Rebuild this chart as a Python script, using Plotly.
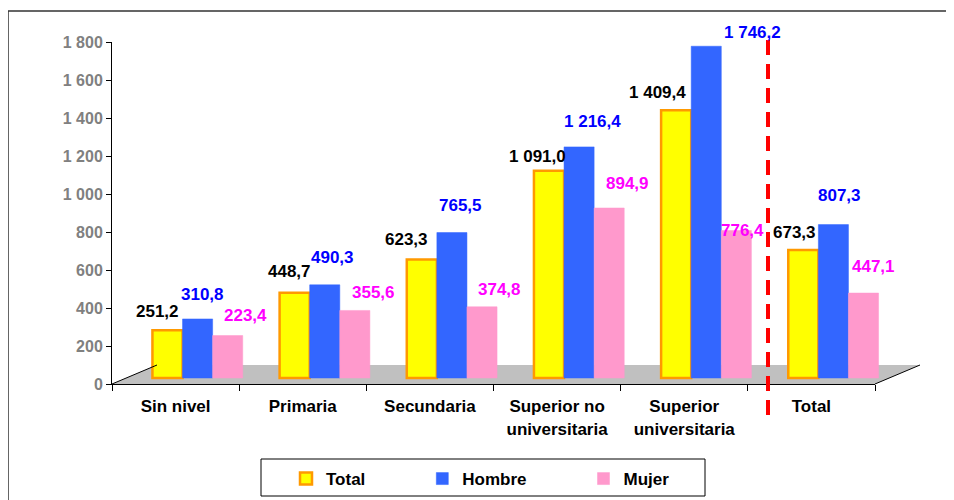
import plotly.graph_objects as go

categories = ["Sin nivel", "Primaria", "Secundaria", "Superior no<br>universitaria",
              "Superior<br>universitaria", "Total"]
total = [251.2, 448.7, 623.3, 1091.0, 1409.4, 673.3]
hombre = [310.8, 490.3, 765.5, 1216.4, 1746.2, 807.3]
mujer = [223.4, 355.6, 374.8, 894.9, 776.4, 447.1]
y_ticks = [0, 200, 400, 600, 800, 1000, 1200, 1400, 1600, 1800]

# label placement offsets (px) per point
tot_dx = [-10, -5, -15, -12, -19, -9]
tot_dy = [19, 21, 20, 14, 18, 18]
hom_dx = [5, 8, 9, 13, 46, 6]
hom_dy = [24, 27, 27, 25, 14, 29]
muj_dx = [18, 19, 18, 18, 6, 10]
muj_dy = [20, 18, 17, 24, 0, 27]

def fmt(v):
    s = f"{v:,.1f}"
    return s.replace(",", " ").replace(".", ",")

FONT = "Liberation Sans, Arial, sans-serif"
# page body has an 8px margin; figure sized to fill the rest of the window
W, H = 946, 492
L, R, T, B = 104, 34, 34, 116
PW, PH = W - L - R, H - T - B

def px(x):  # screen x -> paper
    return (x - 8 - L) / PW

def py(y):  # screen y -> paper
    return (H - B - (y - 8)) / PH

fig = go.Figure()
PAD = "\u00a0" * 11
series = [
    ("Total", total, "#FFFF00", "#FF9900", 2.5, "#000000", tot_dx, tot_dy),
    ("Hombre", hombre, "#3366FF", "#3366FF", 0.5, "#0000FF", hom_dx, hom_dy),
    ("Mujer", mujer, "#FF99CC", "#FF99CC", 0.5, "#FF00FF", muj_dx, muj_dy),
]
cats_plain = [c.replace("<br>", " ") for c in categories]
for i, (name, vals, fc, lc, lw, tc, dx, dy) in enumerate(series):
    fig.add_trace(go.Bar(name=name + PAD, x=cats_plain, y=vals, xaxis="x2", yaxis="y2",
                         marker=dict(color=fc, line=dict(color=lc, width=lw)),
                         hoverinfo="skip"))
    off = (i - 1) * 30
    for c, v, ddx, ddy in zip(cats_plain, vals, dx, dy):
        fig.add_annotation(x=c, y=v, xref="x2", yref="y2", text=f"<b>{fmt(v)}</b>",
                           showarrow=False, xshift=off + ddx, yshift=ddy,
                           font=dict(family=FONT, size=17, color=tc))

# invisible trace to carry category axis
fig.add_trace(go.Scatter(x=categories, y=[0] * 6, mode="markers", marker=dict(opacity=0),
                         showlegend=False, hoverinfo="skip", xaxis="x", yaxis="y"))

shapes = [
    # floor
    dict(type="path", xref="paper", yref="paper",
         path=f"M {px(112)},{py(384)} L {px(157)},{py(365)} L {px(920)},{py(365)} L {px(875)},{py(384)} Z",
         fillcolor="#C0C0C0", line=dict(width=0), layer="below"),
    dict(type="line", xref="paper", yref="paper", x0=px(112), y0=py(384), x1=px(157), y1=py(365),
         line=dict(color="#000000", width=1)),
    dict(type="line", xref="paper", yref="paper", x0=px(875), y0=py(384), x1=px(920), y1=py(365),
         line=dict(color="#000000", width=1)),
    # red dashed separator
    dict(type="line", xref="paper", yref="paper", x0=px(768), x1=px(768), y0=py(40), y1=py(422),
         line=dict(color="#FF0000", width=4, dash="15px,9px")),
    # outer frame
    dict(type="rect", xref="paper", yref="paper", x0=px(8), y0=py(11), x1=px(970), y1=py(520),
         line=dict(color="#333333", width=1.5), fillcolor="rgba(0,0,0,0)"),
    # legend frame
    dict(type="rect", xref="paper", yref="paper", x0=px(261), y0=py(459), x1=px(705), y1=py(496),
         line=dict(color="#000000", width=1), fillcolor="white", layer="below"),
]

fig.update_layout(
    width=W, height=H, margin=dict(l=L, r=R, t=T, b=B, autoexpand=False),
    paper_bgcolor="white", plot_bgcolor="rgba(0,0,0,0)",
    barmode="group", bargap=0.29, bargroupgap=0,
    font=dict(family=FONT, size=16, color="#000000"),
    shapes=shapes,
    xaxis=dict(domain=[0, px(875)], type="category", categoryarray=categories,
               range=[-0.5, 5.5], showline=True, linecolor="#000000", linewidth=1,
               ticks="outside", ticklen=6, tickcolor="#000000", tickson="boundaries",
               ticklabelstandoff=7,
               showgrid=False, zeroline=False, anchor="y", automargin=False,
               tickfont=dict(family=FONT, size=17, color="#000000", weight="bold")),
    yaxis=dict(domain=[0, 1], range=[0, 1800], tickvals=y_ticks,
               ticktext=[f"{v:,}".replace(",", " ") for v in y_ticks],
               showline=True, linecolor="#000000", linewidth=1, ticks="outside",
               ticklen=5, tickcolor="#000000", showgrid=False, zeroline=False, anchor="x",
               automargin=False,
               tickfont=dict(family=FONT, size=16, color="#808080", weight="bold")),
    xaxis2=dict(domain=[px(134), px(897)], type="category", categoryarray=cats_plain,
                range=[-0.5, 5.5], visible=False, anchor="y2"),
    yaxis2=dict(domain=[0, 1], range=[-6 / (PH / 1800), 1800 - 6 / (PH / 1800)],
                visible=False, anchor="x2"),
    legend=dict(orientation="h", x=px(286), xanchor="left", y=py(461), yanchor="top",
                borderwidth=0, bgcolor="rgba(0,0,0,0)",
                font=dict(family=FONT, size=17, color="#000000", weight="bold")),
    showlegend=True,
)

fig.write_html("out.html")
